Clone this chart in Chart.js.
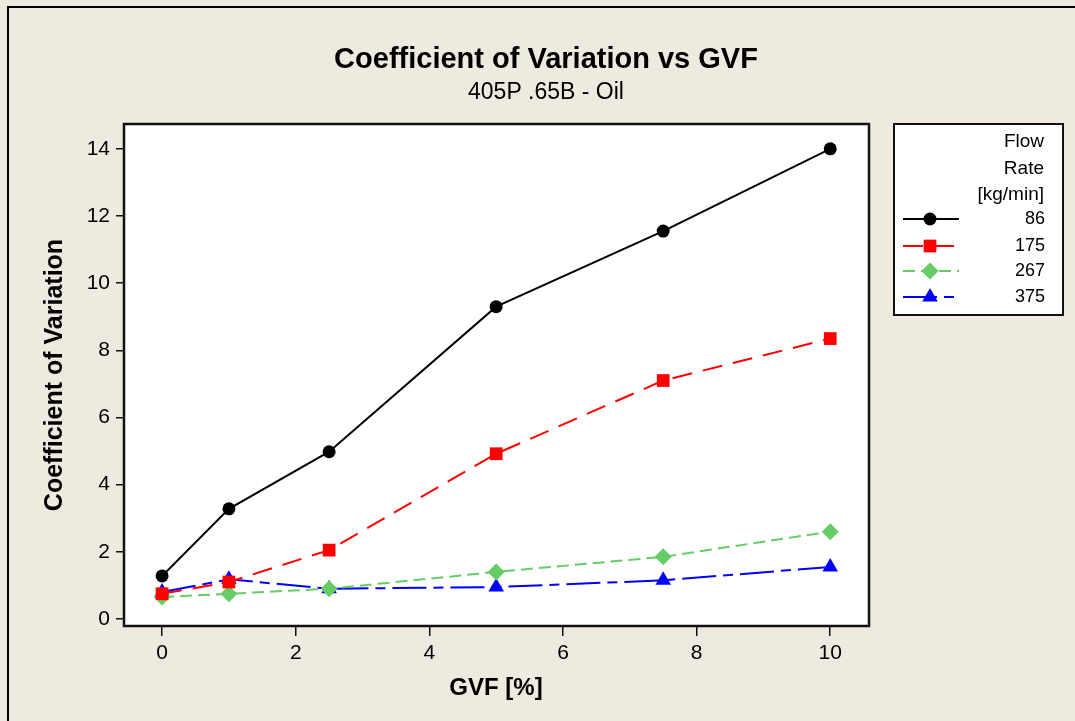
<!DOCTYPE html>
<html>
<head>
<meta charset="utf-8">
<script src="https://cdn.jsdelivr.net/npm/chart.js@4/dist/chart.umd.min.js"></script>
<style>
  html, body { margin: 0; padding: 0; background: #EEEAE0; }
  #wrap { width: 1075px; height: 721px; position: relative; }
</style>
</head>
<body>
<div id="wrap"><canvas id="chart" width="1075" height="721"></canvas></div>
<script>
// Data
const gvf = [0, 1, 2.5, 5, 7.5, 10];
const flowRates = ['86', '175', '267', '375'];
const cov86 = [1.28, 3.28, 4.98, 9.3, 11.55, 14.0];
const cov175 = [0.75, 1.1, 2.05, 4.92, 7.1, 8.35];
const cov267 = [0.65, 0.75, 0.9, 1.4, 1.85, 2.6];
const cov375 = [0.8, 1.18, 0.9, 0.95, 1.15, 1.55];
const xTicks = [0, 2, 4, 6, 8, 10];
const yTicks = [0, 2, 4, 6, 8, 10, 12, 14];

const FONT = '"Liberation Sans", Arial, sans-serif';

function pts(ys) {
    return gvf.map((x, i) => ({ x: x, y: ys[i] }));
}

// Background, outer frame, plot border, titles and legend
const decorPlugin = {
    id: 'decor',
    beforeDraw(chart) {
        const ctx = chart.ctx;
        ctx.save();
        ctx.fillStyle = '#EEEAE0';
        ctx.fillRect(0, 0, chart.width, chart.height);
        // outer frame (left and top edges visible)
        ctx.strokeStyle = '#000';
        ctx.lineWidth = 2;
        ctx.beginPath();
        ctx.moveTo(8, chart.height);
        ctx.lineTo(8, 7);
        ctx.lineTo(chart.width, 7);
        ctx.stroke();
        // plot area fill
        const a = chart.chartArea;
        ctx.fillStyle = '#fff';
        ctx.fillRect(a.left, a.top, a.right - a.left, a.bottom - a.top);
        ctx.restore();
    },
    afterDraw(chart) {
        const ctx = chart.ctx;
        const a = chart.chartArea;
        ctx.save();
        // plot border
        ctx.strokeStyle = '#111';
        ctx.lineWidth = 2.5;
        ctx.strokeRect(a.left, a.top, a.right - a.left, a.bottom - a.top);

        // titles
        ctx.fillStyle = '#000';
        ctx.textAlign = 'center';
        ctx.textBaseline = 'middle';
        ctx.font = 'bold 29px ' + FONT;
        ctx.fillText('Coefficient of Variation vs GVF', 546, 60);
        ctx.font = '23px ' + FONT;
        ctx.fillText('405P .65B - Oil', 546, 93);

        // axis titles
        ctx.font = 'bold 24px ' + FONT;
        ctx.fillText('GVF [%]', 496, 688);
        ctx.save();
        ctx.translate(55, 375);
        ctx.rotate(-Math.PI / 2);
        ctx.font = 'bold 25px ' + FONT;
        ctx.fillText('Coefficient of Variation', 0, 0);
        ctx.restore();

        // legend box
        const lx = 894, ly = 124, lw = 169, lh = 191;
        ctx.fillStyle = '#fff';
        ctx.fillRect(lx, ly, lw, lh);
        ctx.strokeStyle = '#111';
        ctx.lineWidth = 2;
        ctx.strokeRect(lx, ly, lw, lh);

        ctx.fillStyle = '#000';
        ctx.textAlign = 'right';
        ctx.font = '19px ' + FONT;
        ctx.fillText('Flow', 1044, 142);
        ctx.fillText('Rate', 1044, 169);
        ctx.fillText('[kg/min]', 1044, 195);

        ctx.font = '18px ' + FONT;
        const rowY = [219, 246, 271, 297];
        chart.data.datasets.forEach((ds, i) => {
            const y = rowY[i];
            ctx.save();
            ctx.strokeStyle = ds.borderColor;
            ctx.lineWidth = ds.borderWidth;
            ctx.setLineDash(ds.borderDash || []);
            ctx.beginPath();
            ctx.moveTo(903, y);
            ctx.lineTo(959, y);
            ctx.stroke();
            ctx.setLineDash([]);
            ctx.fillStyle = ds.pointBackgroundColor;
            ctx.strokeStyle = ds.pointBackgroundColor;
            Chart.helpers.drawPoint(ctx, {
                pointStyle: ds.pointStyle,
                radius: ds.pointRadius,
                rotation: 0,
                borderWidth: 0
            }, 930, y);
            ctx.restore();
            ctx.fillStyle = '#000';
            ctx.fillText(ds.label, 1045, y);
        });
        ctx.restore();
    }
};

function series(label, ys, color, dash, style, radius) {
    return {
        label: label,
        data: pts(ys),
        borderColor: color,
        backgroundColor: color,
        borderWidth: 2,
        borderDash: dash,
        pointStyle: style,
        pointRadius: radius,
        pointHoverRadius: radius,
        pointBackgroundColor: color,
        pointBorderColor: color,
        pointBorderWidth: 0,
        tension: 0,
        clip: false
    };
}

new Chart(document.getElementById('chart'), {
    type: 'line',
    data: {
        datasets: [
            series(flowRates[0], cov86, '#000000', [], 'circle', 6.5),
            series(flowRates[1], cov175, '#FF0000', [20, 11], 'rect', 9),
            series(flowRates[2], cov267, '#66CC66', [12, 6], 'rectRot', 8.5),
            series(flowRates[3], cov375, '#0000FF', [34, 7, 10, 7], 'triangle', 9)
        ]
    },
    options: {
        responsive: false,
        animation: false,
        events: [],
        layout: { padding: { top: 124, right: 206, left: 0, bottom: 0 } },
        plugins: {
            legend: { display: false },
            title: { display: false },
            tooltip: { enabled: false }
        },
        scales: {
            x: {
                type: 'linear',
                min: -0.57,
                max: 10.58,
                afterFit(scale) { scale.height = 95; },
                afterBuildTicks(scale) { scale.ticks = xTicks.map(v => ({ value: v })); },
                border: { display: false },
                grid: {
                    display: true,
                    drawOnChartArea: false,
                    drawTicks: true,
                    tickLength: 10,
                    color: '#111',
                    lineWidth: 1.5
                },
                ticks: {
                    color: '#000',
                    padding: 5,
                    maxRotation: 0,
                    font: { family: FONT, size: 21 }
                }
            },
            y: {
                type: 'linear',
                min: -0.21,
                max: 14.74,
                afterFit(scale) { scale.width = 124; },
                afterBuildTicks(scale) { scale.ticks = yTicks.map(v => ({ value: v })); },
                border: { display: false },
                grid: {
                    display: true,
                    drawOnChartArea: false,
                    drawTicks: true,
                    tickLength: 8,
                    color: '#111',
                    lineWidth: 1.5
                },
                ticks: {
                    color: '#000',
                    padding: 6,
                    font: { family: FONT, size: 21 }
                }
            }
        }
    },
    plugins: [decorPlugin]
});
</script>
</body>
</html>
